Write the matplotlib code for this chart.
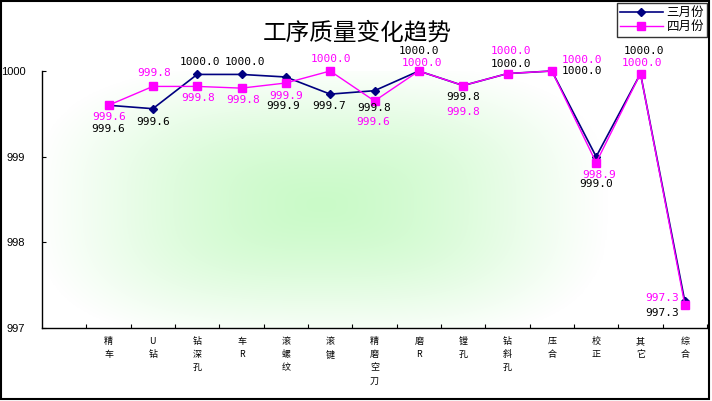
import matplotlib
matplotlib.use("Agg")
import matplotlib.pyplot as plt
import numpy as np
from matplotlib.patches import Rectangle
from matplotlib.lines import Line2D

plt.rcParams['font.family'] = ['Noto Sans CJK SC', 'DejaVu Sans']

title = "工序质量变化趋势"
categories = ["精车", "U钻", "钻深孔", "车R", "滚螺纹", "滚键", "精磨空刀", "磨R",
              "镗孔", "钻斜孔", "压合", "校正", "其它", "综合"]
march = [999.60, 999.56, 999.96, 999.96, 999.93, 999.73, 999.77, 1000.0,
         999.83, 999.97, 1000.0, 999.0, 999.97, 997.31]
april = [999.60, 999.82, 999.82, 999.80, 999.86, 1000.0, 999.65, 1000.0,
         999.83, 999.97, 1000.0, 998.93, 999.97, 997.27]
series_names = ["三月份", "四月份"]
yticks = [997, 998, 999, 1000]

# label offsets in pixels (dx, dy up)
off_march = [(0, -24), (0, -13), (3, 12), (3, 12), (-3, -29), (-1, -12), (0, -17),
             (0, 20), (0, -11), (3, 10), (30, 0), (0, -27), (3, 23), (-23, -12)]
off_april = [(1, -12), (1, 13), (1, -12), (2, -12), (0, -13), (1, 12), (-1, -21),
             (3, 8), (0, -26), (3, 23), (30, 11), (3, -12), (1, 11), (-23, 7)]

W, H = 712, 401
fig = plt.figure(figsize=(W / 100, H / 100), dpi=100)
fig.patch.set_facecolor('white')
ax = fig.add_axes([42 / W, 1 - 328 / H, (707 - 42) / W, (328 - 71) / H])
ax.set_xlim(-0.5, 14.5)
ax.set_ylim(997, 1000)

# soft gradient background from center
nx, ny = 500, 250
xs = np.linspace(0, 1, nx)
ys = np.linspace(0, 1, ny)
X, Y = np.meshgrid(xs, ys)
cx, cy, hw, hh = 0.42, 0.48, 0.43, 0.55
p = 3.0
t = ((np.abs(X - cx) / hw) ** p + (np.abs(Y - cy) / hh) ** p) ** (1 / p)
t = np.clip(t, 0, 1)
w = (1 - t) ** 0.75
w = w * w * (3 - 2 * w) * 0.6 + w * 0.4
c0 = np.array([1.0, 1.0, 1.0])
c1 = np.array([202, 250, 200]) / 255
img = c0[None, None, :] + (c1 - c0)[None, None, :] * w[:, :, None]
ax.imshow(img, extent=[0, 1, 0, 1], transform=ax.transAxes, origin='lower',
          aspect='auto', zorder=0, interpolation='bilinear')

xpos = np.arange(1, len(categories) + 1)
ax.plot(xpos, march, color='#000080', lw=1.2, marker='D', ms=4.5,
        clip_on=False, zorder=3)
ax.plot(xpos, april, color='#FF00FF', lw=1.0, marker='s', ms=5.5,
        clip_on=False, zorder=4)

for i, (v, o) in enumerate(zip(march, off_march)):
    ax.annotate(f"{v:.1f}", (xpos[i], v), xytext=o, textcoords='offset pixels',
                ha='center', va='center', fontsize=8, color='black',
                family='DejaVu Sans Mono', zorder=5, annotation_clip=False)
for i, (v, o) in enumerate(zip(april, off_april)):
    ax.annotate(f"{v:.1f}", (xpos[i], v), xytext=o, textcoords='offset pixels',
                ha='center', va='center', fontsize=8, color='#FF00FF',
                family='DejaVu Sans Mono', zorder=5, annotation_clip=False)

for s in ['top', 'right']:
    ax.spines[s].set_visible(False)
for s in ['left', 'bottom']:
    ax.spines[s].set_color('black')
    ax.spines[s].set_linewidth(1.0)

ax.set_yticks(yticks)
ax.set_yticklabels([str(v) for v in yticks], fontsize=8, family='Liberation Sans')
ax.tick_params(axis='y', direction='in', length=3, pad=12, colors='black')
ax.set_xticks(np.arange(0.5, 15, 1.0))
ax.set_xticklabels([])
ax.tick_params(axis='x', direction='in', length=3)

for i, c in enumerate(categories):
    ax.text(xpos[i], -9 / 257, "\n".join(c), transform=ax.get_xaxis_transform(),
            ha='center', va='top', fontsize=6.5, linespacing=1.6, color='black')

fig.text(357 / W, 1 - 33 / H, title, ha='center', va='center', fontsize=17)

handles = [Line2D([], [], color='#000080', lw=1.2, marker='D', ms=4.5),
           Line2D([], [], color='#FF00FF', lw=1.0, marker='s', ms=5.5)]
leg = fig.legend(handles, series_names, loc='upper right',
                 bbox_to_anchor=(707 / W, 1 - 3 / H), fontsize=9,
                 frameon=True, fancybox=False, handlelength=3.4,
                 borderpad=0.25, labelspacing=0.1, handletextpad=0.3,
                 borderaxespad=0)
leg.get_frame().set_edgecolor('black')
leg.get_frame().set_linewidth(1.0)

fig.add_artist(Rectangle((0.5 / W, 2.5 / H), (709 - 0.5) / W, (H - 3) / H,
                         transform=fig.transFigure, fill=False,
                         edgecolor='black', lw=1.5))

fig.savefig('out.png', dpi=100, facecolor='white')
